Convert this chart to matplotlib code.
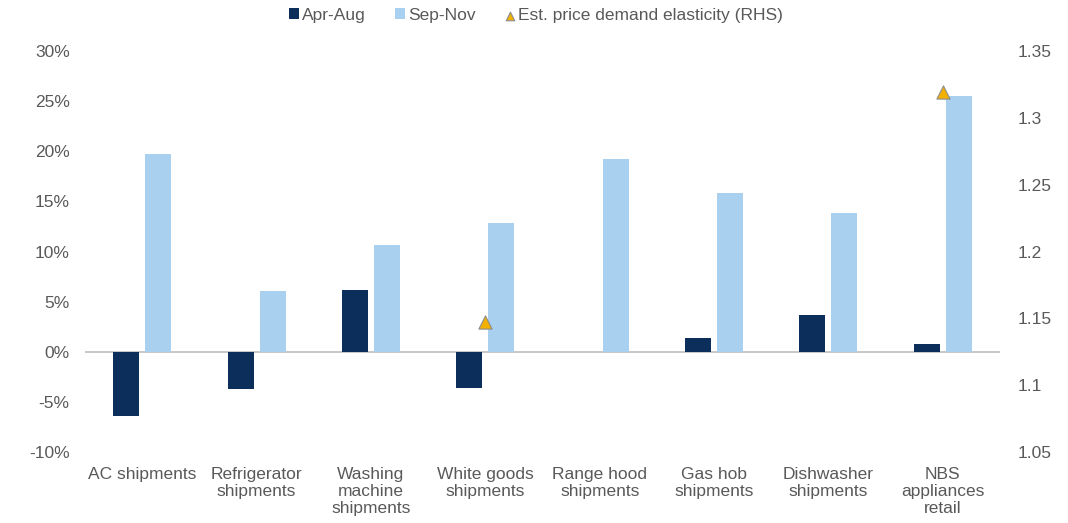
import matplotlib
matplotlib.use("Agg")
import matplotlib.pyplot as plt
import numpy as np
from matplotlib.ticker import FuncFormatter

plt.rcParams['font.family'] = ['Liberation Sans', 'DejaVu Sans']

categories = ["AC shipments", "Refrigerator\nshipments", "Washing\nmachine\nshipments",
              "White goods\nshipments", "Range hood\nshipments", "Gas hob\nshipments",
              "Dishwasher\nshipments", "NBS\nappliances\nretail"]
apr_aug = [-6.4, -3.7, 6.2, -3.6, 0.0, 1.4, 3.7, 0.8]
sep_nov = [19.7, 6.1, 10.6, 12.8, 19.2, 15.8, 13.8, 25.5]
elasticity = [np.nan, np.nan, np.nan, 1.147, np.nan, np.nan, np.nan, 1.319]

dark = "#0b2f5a"
light = "#aad0f0"
gold = "#f2b100"
txt = "#595959"
fs = 12.5

fig = plt.figure(figsize=(10.68, 5.23), dpi=100)
ax = fig.add_axes([85/1068, 1-452/523, 915/1068, 401/523])
x = np.arange(len(categories))
w = 0.228
off = 0.14
ax.bar(x - off, apr_aug, w, color=dark, label="Apr-Aug", zorder=2)
ax.bar(x + off, sep_nov, w, color=light, label="Sep-Nov", zorder=2)
ax.axhline(0, color="#bfbfbf", lw=1.2, zorder=1)
ax.set_xlim(-0.5, len(categories) - 0.5)
ax.set_ylim(-10, 30)
ax.set_yticks(np.arange(-10, 31, 5))
ax.yaxis.set_major_formatter(FuncFormatter(lambda v, p: f"{int(v)}%"))
ax.set_xticks(x)
ax.set_xticklabels(categories, fontsize=fs, color=txt, linespacing=1.15)
ax.tick_params(axis='x', length=0, pad=11)
ax.tick_params(axis='y', length=0, pad=11, labelsize=fs, labelcolor=txt)
for s in ax.spines.values():
    s.set_visible(False)

ax2 = ax.twinx()
ax2.scatter(x, elasticity, marker="^", s=90, color=gold, edgecolor="#8c8c8c",
            linewidth=0.8, zorder=3, label="Est. price demand elasticity (RHS)")
ax2.set_ylim(1.05, 1.35)
ax2.set_yticks([1.05, 1.1, 1.15, 1.2, 1.25, 1.3, 1.35])
ax2.set_yticklabels(["1.05", "1.1", "1.15", "1.2", "1.25", "1.3", "1.35"])
ax2.tick_params(axis='y', length=0, pad=13, labelsize=fs, labelcolor=txt)
for s in ax2.spines.values():
    s.set_visible(False)

h1, l1 = ax.get_legend_handles_labels()
h2, l2 = ax2.get_legend_handles_labels()
fig.legend(h1 + h2, l1 + l2, loc="upper center", bbox_to_anchor=(0.502, 1.015), ncol=3,
           frameon=False, fontsize=fs, labelcolor=txt, handlelength=0.55,
           handleheight=0.55, handletextpad=0.2, columnspacing=1.7, markerscale=0.65)

fig.savefig("out.png", dpi=100)
